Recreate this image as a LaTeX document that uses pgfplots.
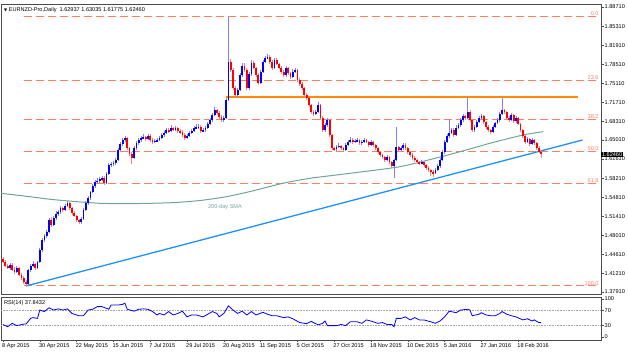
\documentclass[border=0pt]{standalone}
\usepackage{pgfplots}
\pgfplotsset{compat=1.18}
\usepackage{pgfplotstable}
\usepackage{fontspec}
\setmainfont{Liberation Sans}
\newfontfamily\symfont{DejaVu Sans}
\definecolor{fib}{RGB}{250,128,100}
\definecolor{upc}{RGB}{0,0,255}
\definecolor{dnc}{RGB}{255,0,0}
\definecolor{trend}{RGB}{30,144,255}
\definecolor{sma}{RGB}{110,165,155}
\definecolor{orng}{RGB}{255,140,0}
\newcommand{\sz}{\fontsize{5.6}{6.5}\selectfont}

\pgfplotstableread{
i o h l c
0 1.4380 1.4420 1.4300 1.4326
1 1.4326 1.4360 1.4230 1.4255
2 1.4255 1.4290 1.4200 1.4219
3 1.4219 1.4310 1.4190 1.4272
4 1.4272 1.4300 1.4160 1.4183
5 1.4183 1.4230 1.4120 1.4148
6 1.4148 1.4260 1.4130 1.4219
7 1.4219 1.4240 1.4070 1.4094
8 1.4094 1.4130 1.4010 1.4041
9 1.4041 1.4080 1.3940 1.3969
10 1.3969 1.4000 1.3880 1.3934
11 1.3934 1.4210 1.3910 1.4183
12 1.4183 1.4290 1.4150 1.4255
13 1.4255 1.4340 1.4230 1.4290
14 1.4290 1.4310 1.4180 1.4219
15 1.4219 1.4350 1.4200 1.4326
16 1.4326 1.4570 1.4300 1.4540
17 1.4540 1.4760 1.4510 1.4718
18 1.4718 1.4830 1.4690 1.4789
19 1.4789 1.4900 1.4750 1.4861
20 1.4861 1.5110 1.4840 1.5074
21 1.5074 1.5120 1.4950 1.4985
22 1.4985 1.5150 1.4960 1.5110
23 1.5110 1.5230 1.5080 1.5181
24 1.5181 1.5260 1.5150 1.5217
25 1.5217 1.5330 1.5190 1.5288
26 1.5288 1.5310 1.5220 1.5253
27 1.5253 1.5360 1.5230 1.5324
28 1.5324 1.5420 1.5300 1.5378
29 1.5378 1.5400 1.5260 1.5288
30 1.5288 1.5310 1.5170 1.5199
31 1.5199 1.5230 1.5120 1.5146
32 1.5146 1.5170 1.5040 1.5074
33 1.5074 1.5100 1.5000 1.5039
34 1.5039 1.5120 1.5010 1.5092
35 1.5092 1.5280 1.5070 1.5253
36 1.5253 1.5410 1.5230 1.5378
37 1.5378 1.5500 1.5350 1.5467
38 1.5467 1.5600 1.5440 1.5574
39 1.5574 1.5710 1.5550 1.5681
40 1.5681 1.5790 1.5650 1.5752
41 1.5752 1.5820 1.5720 1.5770
42 1.5770 1.5840 1.5740 1.5805
43 1.5805 1.5860 1.5770 1.5823
44 1.5823 1.5850 1.5700 1.5734
45 1.5734 1.5930 1.5710 1.5894
46 1.5894 1.6090 1.5870 1.6055
47 1.6055 1.6110 1.6020 1.6073
48 1.6073 1.6130 1.6040 1.6091
49 1.6091 1.6180 1.6060 1.6144
50 1.6144 1.6360 1.6120 1.6322
51 1.6322 1.6470 1.6300 1.6429
52 1.6429 1.6540 1.6400 1.6500
53 1.6500 1.6580 1.6470 1.6536
54 1.6536 1.6560 1.6330 1.6358
55 1.6358 1.6380 1.6220 1.6251
56 1.6251 1.6280 1.6080 1.6180
57 1.6180 1.6390 1.6160 1.6358
58 1.6358 1.6480 1.6330 1.6447
59 1.6447 1.6540 1.6420 1.6500
60 1.6500 1.6580 1.6470 1.6536
61 1.6536 1.6600 1.6510 1.6554
62 1.6554 1.6580 1.6490 1.6518
63 1.6518 1.6610 1.6500 1.6572
64 1.6572 1.6600 1.6470 1.6500
65 1.6500 1.6530 1.6430 1.6465
66 1.6465 1.6520 1.6440 1.6483
67 1.6483 1.6540 1.6460 1.6500
68 1.6500 1.6570 1.6480 1.6536
69 1.6536 1.6630 1.6510 1.6590
70 1.6590 1.6660 1.6560 1.6625
71 1.6625 1.6720 1.6600 1.6679
72 1.6679 1.6710 1.6630 1.6661
73 1.6661 1.6760 1.6640 1.6714
74 1.6714 1.6740 1.6670 1.6697
75 1.6697 1.6750 1.6670 1.6714
76 1.6714 1.6740 1.6630 1.6661
77 1.6661 1.6690 1.6610 1.6643
78 1.6643 1.6670 1.6560 1.6590
79 1.6590 1.6620 1.6500 1.6536
80 1.6536 1.6610 1.6510 1.6572
81 1.6572 1.6660 1.6550 1.6625
82 1.6625 1.6700 1.6600 1.6661
83 1.6661 1.6750 1.6640 1.6714
84 1.6714 1.6780 1.6690 1.6732
85 1.6732 1.6790 1.6700 1.6740
86 1.6740 1.6760 1.6630 1.6661
87 1.6661 1.6720 1.6640 1.6679
88 1.6679 1.6750 1.6650 1.6714
89 1.6714 1.6820 1.6690 1.6786
90 1.6786 1.6900 1.6760 1.6857
91 1.6857 1.6990 1.6830 1.6946
92 1.6946 1.7080 1.6920 1.7035
93 1.7035 1.7060 1.6950 1.6982
94 1.6982 1.7010 1.6880 1.6910
95 1.6910 1.6940 1.6820 1.6857
96 1.6857 1.6930 1.6830 1.6893
97 1.6893 1.7250 1.6870 1.7213
98 1.7213 1.8693 1.7190 1.7891
99 1.7891 1.7950 1.7720 1.7748
100 1.7748 1.7790 1.7400 1.7427
101 1.7427 1.7460 1.7270 1.7303
102 1.7303 1.7420 1.7270 1.7392
103 1.7392 1.7700 1.7370 1.7659
104 1.7659 1.7870 1.7630 1.7820
105 1.7820 1.7880 1.7720 1.7748
106 1.7748 1.7780 1.7390 1.7427
107 1.7427 1.7710 1.7400 1.7677
108 1.7677 1.7920 1.7650 1.7873
109 1.7873 1.7900 1.7760 1.7784
110 1.7784 1.7810 1.7630 1.7659
111 1.7659 1.7690 1.7480 1.7517
112 1.7517 1.7750 1.7490 1.7713
113 1.7713 1.7930 1.7690 1.7891
114 1.7891 1.8000 1.7870 1.7962
115 1.7962 1.8040 1.7940 1.7980
116 1.7980 1.8010 1.7860 1.7891
117 1.7891 1.7920 1.7750 1.7784
118 1.7784 1.7960 1.7760 1.7927
119 1.7927 1.7970 1.7830 1.7855
120 1.7855 1.7880 1.7760 1.7784
121 1.7784 1.7820 1.7680 1.7713
122 1.7713 1.7740 1.7620 1.7659
123 1.7659 1.7820 1.7630 1.7784
124 1.7784 1.7810 1.7660 1.7695
125 1.7695 1.7720 1.7590 1.7623
126 1.7623 1.7760 1.7600 1.7713
127 1.7713 1.7790 1.7690 1.7748
128 1.7748 1.7770 1.7540 1.7570
129 1.7570 1.7600 1.7470 1.7499
130 1.7499 1.7530 1.7400 1.7427
131 1.7427 1.7450 1.7270 1.7303
132 1.7303 1.7330 1.7220 1.7249
133 1.7249 1.7270 1.7090 1.7124
134 1.7124 1.7150 1.6970 1.7000
135 1.7000 1.7030 1.6930 1.6964
136 1.6964 1.7040 1.6940 1.7000
137 1.7000 1.7170 1.6980 1.7124
138 1.7124 1.7150 1.6860 1.6893
139 1.6893 1.6920 1.6650 1.6679
140 1.6679 1.6800 1.6650 1.6768
141 1.6768 1.6890 1.6740 1.6857
142 1.6857 1.6880 1.6560 1.6590
143 1.6590 1.6610 1.6330 1.6358
144 1.6358 1.6380 1.6300 1.6340
145 1.6340 1.6410 1.6310 1.6376
146 1.6376 1.6440 1.6350 1.6394
147 1.6394 1.6420 1.6330 1.6358
148 1.6358 1.6380 1.6290 1.6322
149 1.6322 1.6440 1.6300 1.6411
150 1.6411 1.6500 1.6390 1.6465
151 1.6465 1.6550 1.6440 1.6500
152 1.6500 1.6530 1.6430 1.6465
153 1.6465 1.6520 1.6440 1.6483
154 1.6483 1.6540 1.6460 1.6500
155 1.6500 1.6520 1.6420 1.6447
156 1.6447 1.6500 1.6420 1.6465
157 1.6465 1.6540 1.6440 1.6500
158 1.6500 1.6520 1.6440 1.6465
159 1.6465 1.6490 1.6380 1.6411
160 1.6411 1.6500 1.6390 1.6465
161 1.6465 1.6490 1.6380 1.6411
162 1.6411 1.6430 1.6330 1.6358
163 1.6358 1.6380 1.6260 1.6287
164 1.6287 1.6310 1.6200 1.6233
165 1.6233 1.6260 1.6170 1.6197
166 1.6197 1.6220 1.6110 1.6144
167 1.6144 1.6230 1.6120 1.6197
168 1.6197 1.6220 1.6080 1.6108
169 1.6108 1.6130 1.6010 1.6037
170 1.6037 1.6170 1.5823 1.6144
171 1.6144 1.6732 1.6120 1.6376
172 1.6376 1.6400 1.6290 1.6322
173 1.6322 1.6390 1.6300 1.6358
174 1.6358 1.6450 1.6330 1.6411
175 1.6411 1.6440 1.6330 1.6358
176 1.6358 1.6380 1.6260 1.6287
177 1.6287 1.6310 1.6200 1.6233
178 1.6233 1.6260 1.6150 1.6180
179 1.6180 1.6210 1.6110 1.6144
180 1.6144 1.6170 1.6080 1.6108
181 1.6108 1.6130 1.6060 1.6091
182 1.6091 1.6140 1.6070 1.6108
183 1.6108 1.6130 1.6020 1.6055
184 1.6055 1.6080 1.5970 1.6001
185 1.6001 1.6030 1.5930 1.5966
186 1.5966 1.5990 1.5860 1.5930
187 1.5930 1.5960 1.5841 1.5912
188 1.5912 1.6000 1.5890 1.5966
189 1.5966 1.6070 1.5940 1.6037
190 1.6037 1.6180 1.6010 1.6144
191 1.6144 1.6320 1.6120 1.6287
192 1.6287 1.6500 1.6260 1.6465
193 1.6465 1.6610 1.6440 1.6572
194 1.6572 1.6858 1.6540 1.6625
195 1.6625 1.6720 1.6600 1.6679
196 1.6679 1.6710 1.6560 1.6590
197 1.6590 1.6760 1.6570 1.6714
198 1.6714 1.6810 1.6690 1.6768
199 1.6768 1.6900 1.6740 1.6857
200 1.6857 1.6960 1.6830 1.6928
201 1.6928 1.6950 1.6860 1.6893
202 1.6893 1.7249 1.6870 1.7000
203 1.7000 1.7030 1.6830 1.6857
204 1.6857 1.6880 1.6650 1.6679
205 1.6679 1.6760 1.6650 1.6732
206 1.6732 1.6850 1.6710 1.6821
207 1.6821 1.6920 1.6800 1.6893
208 1.6893 1.6960 1.6870 1.6928
209 1.6928 1.6950 1.6790 1.6821
210 1.6821 1.6840 1.6700 1.6732
211 1.6732 1.6760 1.6650 1.6679
212 1.6679 1.6700 1.6610 1.6643
213 1.6643 1.6760 1.6620 1.6732
214 1.6732 1.6830 1.6710 1.6804
215 1.6804 1.6890 1.6780 1.6857
216 1.6857 1.7000 1.6830 1.6964
217 1.6964 1.7249 1.6940 1.7035
218 1.7035 1.7060 1.6970 1.7000
219 1.7000 1.7020 1.6860 1.6893
220 1.6893 1.6920 1.6830 1.6857
221 1.6857 1.6980 1.6840 1.6946
222 1.6946 1.6970 1.6810 1.6839
223 1.6839 1.6920 1.6810 1.6893
224 1.6893 1.6910 1.6760 1.6786
225 1.6786 1.6810 1.6650 1.6679
226 1.6679 1.6700 1.6540 1.6572
227 1.6572 1.6600 1.6430 1.6465
228 1.6465 1.6550 1.6440 1.6518
229 1.6518 1.6540 1.6400 1.6429
230 1.6429 1.6530 1.6410 1.6500
231 1.6500 1.6520 1.6420 1.6447
232 1.6447 1.6470 1.6330 1.6360
233 1.6360 1.6390 1.6270 1.6294
234 1.62937 1.63035 1.61775 1.62460
}\ohlc

\begin{document}
\begin{tikzpicture}
\useasboundingbox (0,0) rectangle (628bp,355bp);
% ---------------- price panel ----------------
\begin{axis}[
  at={(1bp,61bp)}, anchor=south west, scale only axis,
  width=600bp, height=290bp,
  xmin=-0.87, xmax=260, ymin=1.37554, ymax=1.8925,
  xtick=\empty,
  ytick={1.37910,1.41210,1.44610,1.48010,1.51410,1.54810,1.58210,1.61610,1.65010,1.68310,1.71710,1.75110,1.78510,1.81910,1.85310,1.88710},
  yticklabels={1.37910,1.41210,1.44610,1.48010,1.51410,1.54810,1.58210,1.61610,1.65010,1.68310,1.71710,1.75110,1.78510,1.81910,1.85310,1.88710},
  ytick pos=right, yticklabel pos=right,
  tick align=outside, major tick length=2.5bp,
  tick style={black!70, line width=0.5bp},
  yticklabel style={font=\sz, anchor=west, inner sep=0pt, xshift=1bp},
  axis line style={black!70, line width=0.7bp},
  clip=false,
]
% fibonacci levels
\addplot[fib, line width=1bp, dash pattern=on 8bp off 4bp] coordinates {(9,1.8700) (259,1.8700)};
\addplot[fib, line width=1bp, dash pattern=on 8bp off 4bp] coordinates {(9,1.7567) (259,1.7567)};
\addplot[fib, line width=1bp, dash pattern=on 8bp off 4bp] coordinates {(9,1.6866) (259,1.6866)};
\addplot[fib, line width=1bp, dash pattern=on 8bp off 4bp] coordinates {(9,1.6300) (259,1.6300)};
\addplot[fib, line width=1bp, dash pattern=on 8bp off 4bp] coordinates {(9,1.5734) (259,1.5734)};
\addplot[fib, line width=1bp, dash pattern=on 8bp off 4bp] coordinates {(9,1.3900) (259,1.3900)};
\node[anchor=base east, inner sep=0pt, text=fib, font=\sz, yshift=0.8bp] at (axis cs:259,1.8700) {0.0};
\node[anchor=base east, inner sep=0pt, text=fib, font=\sz, yshift=0.8bp] at (axis cs:259,1.7567) {23.6};
\node[anchor=base east, inner sep=0pt, text=fib, font=\sz, yshift=0.8bp] at (axis cs:259,1.6866) {38.2};
\node[anchor=base east, inner sep=0pt, text=fib, font=\sz, yshift=0.8bp] at (axis cs:259,1.6300) {50.0};
\node[anchor=base east, inner sep=0pt, text=fib, font=\sz, yshift=0.8bp] at (axis cs:259,1.5734) {61.8};
\node[anchor=base east, inner sep=0pt, text=fib, font=\sz, yshift=0.8bp] at (axis cs:259,1.3900) {100.0};
% 200-day SMA
\addplot[sma, line width=1bp, smooth, tension=0.4] coordinates {
(-0.87,1.5550)(11.7,1.5490)(20.4,1.5444)(31.3,1.5404)(42.2,1.5372)(53,1.5365)(63.9,1.5372)(74.8,1.5386)(85.7,1.5422)(96.5,1.5485)(107.4,1.5582)(121.7,1.5729)(133.5,1.5818)(150.9,1.5907)(172.6,1.6025)(190,1.6197)(198.7,1.6292)(211.7,1.6442)(226.1,1.6590)(234.8,1.6649)};
% trend line and resistance
\addplot[trend, line width=1.3bp] coordinates {(10,1.3898) (252,1.6501)};
\addplot[orng, line width=2.2bp] coordinates {(97,1.7267) (250,1.7267)};
% candles: wicks
\addplot[forget plot, draw=none, mark=none, restrict expr to domain={\thisrow{c}-\thisrow{o}}{0:1},
  error bars/.cd, y dir=both, y explicit, error mark=none,
  error bar style={draw=upc!50, line width=0.8bp, solid}]
  table[x=i, y expr={(\thisrow{h}+\thisrow{l})/2}, y error expr={(\thisrow{h}-\thisrow{l})/2}] {\ohlc};
\addplot[forget plot, draw=none, mark=none, restrict expr to domain={\thisrow{c}-\thisrow{o}}{-1:-0.000001},
  error bars/.cd, y dir=both, y explicit, error mark=none,
  error bar style={draw=dnc!50, line width=0.8bp, solid}]
  table[x=i, y expr={(\thisrow{h}+\thisrow{l})/2}, y error expr={(\thisrow{h}-\thisrow{l})/2}] {\ohlc};
% candles: bodies
\addplot[forget plot, draw=none, mark=none, restrict expr to domain={\thisrow{c}-\thisrow{o}}{0:1},
  error bars/.cd, y dir=both, y explicit, error mark=none,
  error bar style={draw=upc, line width=1.8bp, solid}]
  table[x=i, y expr={(\thisrow{o}+\thisrow{c})/2}, y error expr={abs(\thisrow{c}-\thisrow{o})/2}] {\ohlc};
\addplot[forget plot, draw=none, mark=none, restrict expr to domain={\thisrow{c}-\thisrow{o}}{-1:-0.000001},
  error bars/.cd, y dir=both, y explicit, error mark=none,
  error bar style={draw=dnc, line width=1.8bp, solid}]
  table[x=i, y expr={(\thisrow{o}+\thisrow{c})/2}, y error expr={abs(\thisrow{c}-\thisrow{o})/2}] {\ohlc};
% texts
\node[anchor=north west, inner sep=0pt, font=\sz] at ([xshift=3bp,yshift=-3bp]rel axis cs:0,1) {{\symfont\fontsize{4}{5}\selectfont ▼}\ EURNZD-Pro,Daily\ \ 1.62937 1.63035 1.61775 1.62460};
\node[text=sma, font=\sz] at (axis cs:96.5,1.5306) {200-day SMA};
\node[anchor=west, fill=black, text=white, font=\sz, inner sep=0.8bp] at (axis cs:260,1.6246) {1.62460};
\end{axis}
% ---------------- RSI panel ----------------
\begin{axis}[
  at={(1bp,15bp)}, anchor=south west, scale only axis,
  width=600bp, height=43bp,
  xmin=-0.87, xmax=260, ymin=-7.9, ymax=105.3,
  ytick={0,30,70,100}, yticklabels={0,30,70,100},
  ytick pos=right, yticklabel pos=right,
  xtick={0,16,32,48,64,80,96,112,128,144,160,176,192,208,224},
  xticklabels={8 Apr 2015,30 Apr 2015,22 May 2015,15 Jun 2015,7 Jul 2015,29 Jul 2015,20 Aug 2015,11 Sep 2015,5 Oct 2015,27 Oct 2015,18 Nov 2015,10 Dec 2015,5 Jan 2016,27 Jan 2016,18 Feb 2016},
  xtick pos=bottom,
  tick align=outside, major tick length=2.5bp,
  tick style={black!70, line width=0.5bp},
  yticklabel style={font=\sz, anchor=west, inner sep=0pt, xshift=1bp},
  xticklabel style={font=\sz, anchor=north west, inner sep=0pt, xshift=-1bp, yshift=-1bp},
  axis line style={black!70, line width=0.7bp},
  clip=false,
]
\addplot[black!35, densely dotted, line width=0.6bp] coordinates {(-0.87,70) (260,70)};
\addplot[black!35, densely dotted, line width=0.6bp] coordinates {(-0.87,30) (260,30)};
\addplot[upc, line width=0.8bp] coordinates {
(0,33)(2,27)(4,36)(6,30)(9,34)(10,34)(12,49)(13,51)(15,49)(16,71)(18,67)(20,77)(22,71)(24,74)(26,71)(28,74)(30,62)(33,56)(35,56)(37,71)(39,73)(41,80)(43,80)(46,73)(47,84)(50,84)(52,86)(53,89)(54,73)(57,68)(59,73)(61,74)(63,73)(65,67)(67,58)(68,62)(70,58)(72,67)(74,58)(76,62)(78,68)(80,53)(82,58)(84,58)(87,53)(89,60)(91,67)(93,62)(94,53)(96,62)(98,82)(100,71)(102,62)(104,68)(106,58)(108,67)(110,58)(113,65)(115,60)(117,56)(119,56)(122,51)(124,53)(126,48)(129,38)(132,35)(134,41)(137,32)(139,36)(140,42)(141,30)(145,30)(147,33)(149,30)(151,40)(154,40)(156,36)(158,45)(160,42)(163,36)(165,38)(167,33)(169,33)(170,27)(171,49)(173,49)(175,53)(177,45)(179,51)(181,45)(183,45)(186,40)(188,36)(190,42)(192,53)(194,68)(197,64)(199,71)(202,73)(203,71)(204,56)(207,60)(208,64)(210,58)(212,56)(214,56)(216,62)(217,67)(219,60)(221,56)(223,53)(226,45)(228,48)(230,42)(231,45)(233,38)(234,37.84)};
\node[anchor=north west, inner sep=0pt, font=\sz] at ([xshift=3bp,yshift=-3bp]rel axis cs:0,1) {RSI(14) 37.8432};
\end{axis}
\end{tikzpicture}
\end{document}
